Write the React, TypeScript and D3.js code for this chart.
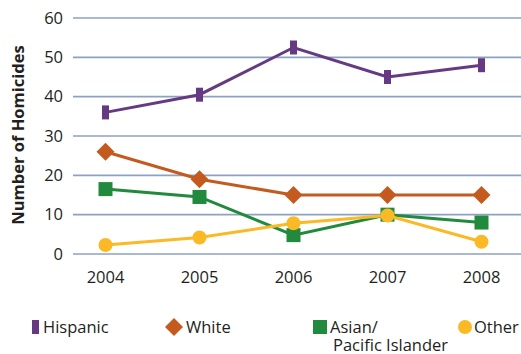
import React from "react";
import * as d3 from "d3";

const years = ["2004", "2005", "2006", "2007", "2008"];
const hispanic = [36, 40.5, 52.5, 45, 48];
const white = [26, 19, 15, 15, 15];
const asian = [16.5, 14.5, 4.8, 10, 8];
const other = [2.3, 4.2, 7.8, 9.8, 3.1];
const yTicks = [0, 10, 20, 30, 40, 50, 60];

const colors = {
  hispanic: "#663a82",
  white: "#c55a1e",
  asian: "#218a3c",
  other: "#fbb926",
};

const W = 521;
const H = 354;
const font = "'Open Sans', 'Noto Sans', sans-serif";

export default function App() {
  const x = d3.scalePoint<string>().domain(years).range([105.5, 481.5]);
  const y = d3.scaleLinear().domain([0, 60]).range([254, 18]);
  const line = d3
    .line<number>()
    .x((_, i) => x(years[i]) as number)
    .y((d) => y(d));

  const series = [
    { key: "hispanic", data: hispanic },
    { key: "white", data: white },
    { key: "asian", data: asian },
    { key: "other", data: other },
  ];

  const marker = (key: string, cx: number, cy: number, k: string | number) => {
    const c = (colors as any)[key];
    if (key === "hispanic")
      return <rect key={k} x={cx - 3.5} y={cy - 7} width={7} height={14} fill={c} />;
    if (key === "white") {
      const r = 9;
      return (
        <path key={k} d={`M${cx},${cy - r}L${cx + r},${cy}L${cx},${cy + r}L${cx - r},${cy}Z`} fill={c} />
      );
    }
    if (key === "asian")
      return <rect key={k} x={cx - 7} y={cy - 7} width={14} height={14} fill={c} />;
    return <circle key={k} cx={cx} cy={cy} r={7} fill={c} />;
  };

  return (
    <svg
      width={W}
      height={H}
      style={{ position: "absolute", left: 0, top: 0, background: "#fff" }}
      fontFamily={font}
    >
      {yTicks.map((t) => (
        <g key={t}>
          <line x1={73} x2={521} y1={y(t)} y2={y(t)} stroke="#8da2c2" strokeWidth={1.6} />
          <text x={63} y={y(t)} dy="0.35em" textAnchor="end" fontSize={16.5} fill="#231f20">
            {t}
          </text>
        </g>
      ))}
      {years.map((yr) => (
        <text key={yr} x={x(yr)} y={277} dy="0.35em" textAnchor="middle" fontSize={16.5} fill="#231f20">
          {yr}
        </text>
      ))}
      <text
        transform="translate(18,135) rotate(-90)"
        textAnchor="middle"
        dy="0.35em"
        fontSize={16.5}
        fontWeight="bold"
        fill="#231f20"
      >
        Number of Homicides
      </text>
      {series.map((s) => (
        <g key={s.key}>
          <path d={line(s.data) || ""} fill="none" stroke={(colors as any)[s.key]} strokeWidth={3} />
          {s.data.map((v, i) => marker(s.key, x(years[i]) as number, y(v), i))}
        </g>
      ))}
      <g fontSize={16.5} fill="#231f20">
        {marker("hispanic", 35.5, 327, "lh")}
        <text x={43} y={327} dy="0.35em">Hispanic</text>
        {marker("white", 174, 327, "lw")}
        <text x={186} y={327} dy="0.35em">White</text>
        {marker("asian", 320, 327, "la")}
        <text x={330} y={327} dy="0.35em">Asian/</text>
        <text x={333} y={345} dy="0.35em">Pacific Islander</text>
        {marker("other", 465, 327, "lo")}
        <text x={474} y={327} dy="0.35em">Other</text>
      </g>
    </svg>
  );
}
